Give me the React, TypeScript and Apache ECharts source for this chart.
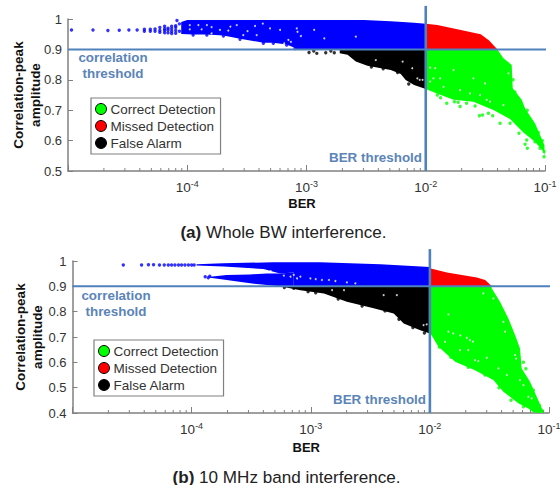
import React, { useEffect, useRef } from "react";
import * as echarts from "echarts";

const FONT = "'Liberation Sans', Arial, sans-serif";
const BLUE = "#0000ff", RED = "#ff0000", GREEN = "#00ff00", BLACK = "#000000", LINE = "#4f81bd";
const legendNames = ["Correct Detection", "Missed Detection", "False Alarm"];
const minorMantissas = [2, 3, 4, 5, 6, 7, 8, 9];
const berThreshold = 0.01;
const corrThreshold = 0.9;

// Panel (a): outlines of the dense clouds [BER, amplitude]
const aBlue = [[8.9e-5,.951],[8.9e-5,.99],[1e-4,.997],[3.04e-3,.997],[5.09e-3,.993],[7.98e-3,.988],[1e-2,.984],[1e-2,.9],[8.3e-4,.9],[8.02e-4,.905],[6.82e-4,.916],[5.27e-4,.922],[4.35e-4,.922],[2.77e-4,.935],[2.01e-4,.946],[1.46e-4,.949],[1.12e-4,.949]];
const aRed = [[1e-2,.984],[1.25e-2,.98],[1.84e-2,.966],[2.89e-2,.95],[3.4e-2,.929],[3.99e-2,.9],[1e-2,.9]];
const aBlack = [[1.9e-3,.9],[1e-2,.9],[1e-2,.77],[7.98e-3,.783],[6.79e-3,.799],[6.17e-3,.819],[5.09e-3,.832],[3.24e-3,.846],[2.59e-3,.86],[2.21e-3,.882],[1.9e-3,.887]];
const aGreen = [[1e-2,.9],[3.99e-2,.9],[4.48e-2,.871],[5.26e-2,.849],[5.36e-2,.772],[6.38e-2,.734],[6.81e-2,.706],[8.24e-2,.657],[9.9e-2,.585],[9.9e-2,.55],[9.68e-2,.564],[8.24e-2,.596],[6.59e-2,.627],[5.09e-2,.671],[3.69e-2,.701],[2.51e-2,.728],[1.71e-2,.734],[1.24e-2,.755],[1e-2,.77]];
const aBlueDots = [[1.07e-5,.964],[1.62e-5,.964],[2.16e-5,.962],[2.69e-5,.963],[3.24e-5,.964],[3.8e-5,.964],[4.37e-5,.96],[4.37e-5,.966],[4.9e-5,.96],[4.9e-5,.966],[5.37e-5,.96],[5.37e-5,.967],[5.89e-5,.956],[5.89e-5,.962],[5.89e-5,.972],[6.46e-5,.955],[6.46e-5,.962],[6.46e-5,.968],[6.46e-5,.976],[6.9e-5,.955],[6.9e-5,.964],[6.9e-5,.97],[7.4e-5,.952],[7.4e-5,.96],[7.4e-5,.968],[7.4e-5,.976],[8e-5,.953],[8e-5,.962],[8e-5,.972],[8e-5,.978],[8.2e-5,.995],[8.6e-5,.984],[8.6e-5,.96],[1.12e-4,.947],[1.46e-4,.947],[2.01e-4,.944],[2.77e-4,.933],[4.35e-4,.92],[5.27e-4,.92],[6.82e-4,.914],[8.02e-4,.903]];
const aBlackDots = [[1.05e-3,.89],[1.22e-3,.887],[1.45e-3,.889],[1.71e-3,.889],[1.15e-3,.895],[1.6e-3,.895],[3.5e-3,.842],[4.4e-3,.836],[5.8e-3,.824],[7.2e-3,.786]];
const aGreenDots = [[1.25e-2,.75],[1.33e-2,.741],[1.5e-2,.723],[1.74e-2,.728],[1.87e-2,.726],[1.94e-2,.712],[2.2e-2,.723],[2.59e-2,.714],[2.82e-2,.682],[2.99e-2,.684],[3.35e-2,.69],[3.64e-2,.682],[4.2e-2,.657],[5.09e-2,.657],[6.05e-2,.624],[7.03e-2,.602],[6.81e-2,.588],[7.11e-2,.575],[8.79e-2,.627],[9.82e-2,.547],[8.24e-2,.596],[9.08e-2,.575],[9.82e-2,.564],[5.4e-2,.8],[5.6e-2,.76],[7.1e-2,.7],[9.5e-2,.6]];
const aGaps = [[1.05e-4,.98],[1.24e-4,.98],[1.46e-4,.98],[1.05e-4,.966],[1.32e-4,.966],[1.6e-4,.973],[1.88e-4,.964],[2.21e-4,.962],[2.6e-4,.98],[2.95e-4,.947],[3.7e-4,.977],[3.82e-4,.947],[4.94e-4,.969],[6e-4,.964],[7.05e-4,.931],[8.28e-4,.969],[8.4e-4,.958],[1.16e-3,.964],[8.97e-4,.944],[1.41e-3,.936],[2.59e-3,.942],[7.4e-4,.925],[6.5e-4,.92],[1.6e-4,.953],[2.3e-4,.975],[3.2e-4,.96],[4.3e-4,.985]];
const aBlackGaps = [[7.7e-3,.838],[8.5e-3,.805],[3.81e-3,.865],[6.4e-3,.86],[8.9e-3,.8],[9.4e-3,.8]];
const aGreenGaps = [[1.09e-2,.84],[1.2e-2,.838],[1.16e-2,.805],[1.32e-2,.805],[1.09e-2,.794],[1.41e-2,.777],[1.71e-2,.832],[2.51e-2,.805],[1.94e-2,.766],[2.35e-2,.755],[2.85e-2,.75],[3.14e-2,.788],[3.46e-2,.728],[3.24e-2,.734],[4.48e-2,.717],[4.93e-2,.821]];

// Panel (b)
const bBlue = [[1.1e-4,.982],[1.1e-4,.987],[1.85e-4,.991],[4.86e-4,.995],[1.2e-3,.995],[3.84e-3,.987],[1e-2,.976],[1e-2,.9],[7.2e-4,.9],[7.2e-4,.955],[5.52e-4,.951],[4.01e-4,.968],[2.55e-4,.974],[1.85e-4,.978]];
const bBlueLower = [[1.43e-4,.938],[1.97e-4,.945],[3.1e-4,.947],[4.27e-4,.951],[5.52e-4,.951],[7.2e-4,.955],[7.2e-4,.9],[5.52e-4,.9],[4.27e-4,.905],[3.1e-4,.912],[1.97e-4,.925],[1.43e-4,.934]];
const bRed = [[1e-2,.971],[1.39e-2,.955],[2.48e-2,.935],[2.91e-2,.925],[3.31e-2,.9],[1e-2,.9]];
const bBlack = [[5.5e-4,.9],[1e-2,.9],[1e-2,.714],[8.3e-3,.727],[6.03e-3,.753],[4.97e-3,.793],[3.37e-3,.813],[2.01e-3,.839],[1.29e-3,.872],[8.19e-4,.885]];
const bGreen = [[1e-2,.9],[3.3e-2,.9],[3.3e-2,.892],[3.88e-2,.839],[4.56e-2,.773],[5.19e-2,.708],[5.71e-2,.655],[5.9e-2,.576],[6.93e-2,.523],[7.89e-2,.464],[8.97e-2,.405],[8.97e-2,.4],[7.4e-2,.402],[6.71e-2,.418],[5.53e-2,.438],[4.14e-2,.484],[3.41e-2,.53],[2.39e-2,.569],[1.63e-2,.602],[1.18e-2,.662],[1.03e-2,.708],[1e-2,.714]];
const bBlueDots = [[2.67e-5,.984],[3.8e-5,.984],[4.34e-5,.985],[4.79e-5,.985],[5.37e-5,.984],[5.89e-5,.984],[6.37e-5,.984],[6.79e-5,.984],[7.24e-5,.984],[7.76e-5,.984],[8.24e-5,.984],[8.79e-5,.984],[9.4e-5,.984],[1e-4,.984],[1.05e-4,.984],[1.3e-4,.938],[1.38e-4,.934],[1.42e-4,.94]];
const bBlackDots = [[6e-4,.895],[7.2e-4,.892],[9.5e-4,.879],[1.1e-3,.875],[1.7e-3,.85],[2.7e-3,.822],[4.2e-3,.803],[5.5e-3,.77],[7.2e-3,.737],[9e-3,.716]];
const bGreenDots = [[1.2e-2,.66],[1.5e-2,.62],[2.1e-2,.58],[2.9e-2,.55],[3.8e-2,.5],[4.8e-2,.45],[6.1e-2,.425],[6.4e-2,.575],[6.1e-2,.6],[7.4e-2,.49],[8.3e-2,.43],[8.7e-2,.41]];
const bGaps = [[5.94e-4,.942],[6.76e-4,.938],[7.67e-4,.931],[8.18e-4,.938],[9.93e-4,.931],[1.24e-3,.925],[1.42e-3,.925],[1.61e-3,.921],[2.01e-3,.916],[2.37e-3,.912],[7.2e-4,.945],[1.1e-3,.928],[3.8e-4,.958],[4.6e-4,.96],[2.6e-4,.962]];
const bBlackGaps = [[4.09e-3,.865],[5.28e-3,.865],[8.85e-3,.747],[1.51e-3,.885],[1.9e-3,.885],[9.4e-3,.75]];
const bGreenGaps = [[1.43e-2,.721],[1.57e-2,.714],[1.8e-2,.706],[2.04e-2,.697],[2.17e-2,.688],[2.3e-2,.682],[1.34e-2,.681],[1.79e-2,.648],[2.1e-2,.648],[2.39e-2,.609],[2.55e-2,.605],[3e-2,.618],[3.76e-2,.576],[4.42e-2,.55],[5.19e-2,.629],[5.3e-2,.615],[4.28e-2,.721],[4.14e-2,.76],[1.43e-2,.789],[2.81e-2,.872],[3.41e-2,.852],[5.71e-2,.53],[6.1e-2,.51],[6.71e-2,.464],[7.16e-2,.458]];

function polygon(name: string, color: string, outline: number[][], axis: number) {
  return {
    type: "custom", name, coordinateSystem: "cartesian2d", xAxisIndex: axis, yAxisIndex: axis,
    itemStyle: { color }, clip: true, z: 2, silent: true, data: outline,
    renderItem: (p: any, api: any) => p.dataIndex !== 0 ? null : ({
      type: "polygon", shape: { points: outline.map((o) => api.coord(o)) }, style: { fill: color },
    }),
  };
}
function dots(name: string, color: string, data: number[][], axis: number, size = 3.4) {
  return { type: "scatter", name, xAxisIndex: axis, yAxisIndex: axis, data, symbolSize: size, itemStyle: { color }, z: size < 3 ? 4 : 3, silent: true };
}
function thresholds(axis: number, yMin: number, yTop: number, xEnd: number) {
  const common = { type: "line", xAxisIndex: axis, yAxisIndex: axis, clip: false, symbol: "none", silent: true, z: 5 };
  return [
    { ...common, name: "correlation threshold", lineStyle: { color: LINE, width: 2 }, data: [[1e-5, corrThreshold], [xEnd, corrThreshold]] },
    { ...common, name: "BER threshold", lineStyle: { color: LINE, width: 2.6 }, data: [[berThreshold, yMin], [berThreshold, yTop]] },
  ];
}
function minorTicks(axis: number, yMin: number) {
  const vals: number[][] = [];
  for (let e = -5; e < -1; e++) for (const m of minorMantissas) vals.push([m * Math.pow(10, e), yMin]);
  return {
    type: "custom", name: "minor ticks", coordinateSystem: "cartesian2d", xAxisIndex: axis, yAxisIndex: axis, clip: false, z: 1, silent: true,
    data: vals,
    renderItem: (_p: any, api: any) => {
      const c = api.coord([api.value(0), api.value(1)]);
      return { type: "line", shape: { x1: c[0], y1: c[1], x2: c[0], y2: c[1] - 3 }, style: { stroke: "#808080", lineWidth: 1 } };
    },
  };
}
function xAxis(grid: number, gap: number) {
  return {
    type: "log", logBase: 10, gridIndex: grid, min: 1e-5, max: 1e-1,
    name: "BER", nameLocation: "middle", nameGap: gap,
    nameTextStyle: { fontFamily: FONT, fontWeight: "bold", fontSize: 13, color: "#111", padding: [0, 9, 0, 0] },
    axisLine: { lineStyle: { color: "#808080", width: 1.5 } },
    axisTick: { inside: true, length: 6, lineStyle: { color: "#808080" } },
    minorTick: { show: false }, splitLine: { show: false },
    axisLabel: {
      margin: 8, hideOverlap: false,
      formatter: (v: number) => {
        const e = Math.round(Math.log10(v));
        return e === -5 ? "" : `{base|10}{sup|${e}}`;
      },
      rich: {
        base: { fontFamily: FONT, fontSize: 13.5, color: "#333" },
        sup: { fontFamily: FONT, fontSize: 9, color: "#333", padding: [0, 0, 7, 0] },
      },
    },
  };
}
function yAxis(grid: number, min: number, gap: number) {
  return {
    type: "value", gridIndex: grid, min, max: 1, interval: 0.1,
    name: "Correlation-peak\namplitude", nameLocation: "middle", nameGap: gap, nameRotate: 90, nameMoveOverlap: false,
    nameTextStyle: { fontFamily: FONT, fontWeight: "bold", fontSize: 13.5, color: "#111", lineHeight: 17 },
    axisLine: { show: true, lineStyle: { color: "#808080", width: 1.5 } },
    axisTick: { show: true, inside: true, length: 5, lineStyle: { color: "#808080" } },
    splitLine: { show: false },
    axisLabel: { margin: 6, fontFamily: FONT, fontSize: 13, color: "#333", formatter: (v: number) => String(Math.round(v * 10) / 10) },
  };
}
function legend(left: number, top: number) {
  const colors = [GREEN, RED, BLACK];
  return {
    orient: "vertical", left, top, selectedMode: false, padding: [4, 5, 4, 4], itemGap: 3, itemWidth: 11, itemHeight: 11,
    backgroundColor: "#fff", borderColor: "#808080", borderWidth: 1.2, borderRadius: 0,
    textStyle: { fontFamily: FONT, fontSize: 13.5, color: "#333", padding: [0, 0, 0, -1] },
    data: legendNames.map((name, i) => ({ name, icon: "circle", itemStyle: { color: colors[i], borderColor: "#000", borderWidth: 1 } })),
  };
}
function label(text: string, x: number, y: number, align: string) {
  return { type: "text", x, y, z: 10, style: { text, x: 0, y: 0, align, verticalAlign: "middle", lineHeight: 16, fontFamily: FONT, fontWeight: "bold", fontSize: 13.4, fill: "#5b84b8" } };
}
function caption(tag: string, rest: string, x: number, y: number) {
  return {
    type: "text", x, y, z: 10,
    style: {
      text: `{b|${tag}} {n|${rest}}`, align: "center", verticalAlign: "middle", fontFamily: FONT, fontSize: 17.1, fill: "#222",
      rich: { b: { fontFamily: FONT, fontSize: 17.1, fontWeight: "bold", fill: "#222" }, n: { fontFamily: FONT, fontSize: 17.1, fill: "#222" } },
    },
  };
}

export default function App() {
  const ref = useRef<HTMLDivElement>(null);
  useEffect(() => {
    const chart = echarts.init(ref.current!, undefined, { renderer: "svg" });
    chart.setOption({
      animation: false,
      grid: [
        { left: 68, top: 19, width: 477, height: 152, outerBoundsMode: "none" },
        { left: 72.5, top: 261, width: 476.5, height: 152, outerBoundsMode: "none" },
      ],
      xAxis: [xAxis(0, 26), xAxis(1, 28)],
      yAxis: [yAxis(0, 0.5, 24), yAxis(1, 0.4, 26.5)],
      legend: [legend(91, 98), legend(94, 340)],
      series: [
        minorTicks(0, 0.5), minorTicks(1, 0.4),
        polygon("Blue a", BLUE, aBlue, 0), dots("Blue a dots", BLUE, aBlueDots, 0),
        polygon(legendNames[1], RED, aRed, 0),
        polygon(legendNames[2], BLACK, aBlack, 0), dots("Black a dots", BLACK, aBlackDots, 0),
        polygon(legendNames[0], GREEN, aGreen, 0), dots("Green a dots", GREEN, aGreenDots, 0),
        dots("Gaps a", "#ffffff", aGaps, 0, 2), dots("Gaps a black", "#ffffff", aBlackGaps, 0, 2), dots("Gaps a green", "#ffffff", aGreenGaps, 0, 2),
        polygon("Blue b", BLUE, bBlue, 1), polygon("Blue b lower", BLUE, bBlueLower, 1), dots("Blue b dots", BLUE, bBlueDots, 1),
        polygon(legendNames[1], RED, bRed, 1),
        polygon(legendNames[2], BLACK, bBlack, 1), dots("Black b dots", BLACK, bBlackDots, 1),
        polygon(legendNames[0], GREEN, bGreen, 1), dots("Green b dots", GREEN, bGreenDots, 1),
        dots("Gaps b", "#ffffff", bGaps, 1, 2), dots("Gaps b black", "#ffffff", bBlackGaps, 1, 2), dots("Gaps b green", "#ffffff", bGreenGaps, 1, 2),
        ...thresholds(0, 0.5, 1.043, 0.102), ...thresholds(1, 0.4, 1.047, 0.102),
      ],
      graphic: [
        label("correlation\nthreshold", 113, 65, "center"),
        label("BER threshold", 422, 157, "right"),
        label("correlation\nthreshold", 116, 303, "center"),
        label("BER threshold", 426, 399, "right"),
        caption("(a)", "Whole BW interference.", 283.5, 232),
        caption("(b)", "10 MHz band interference.", 286.5, 477),
      ],
    });
    return () => chart.dispose();
  }, []);
  return <div ref={ref} style={{ position: "absolute", left: 0, top: 0, width: 560, height: 485, background: "#fff" }} />;
}
